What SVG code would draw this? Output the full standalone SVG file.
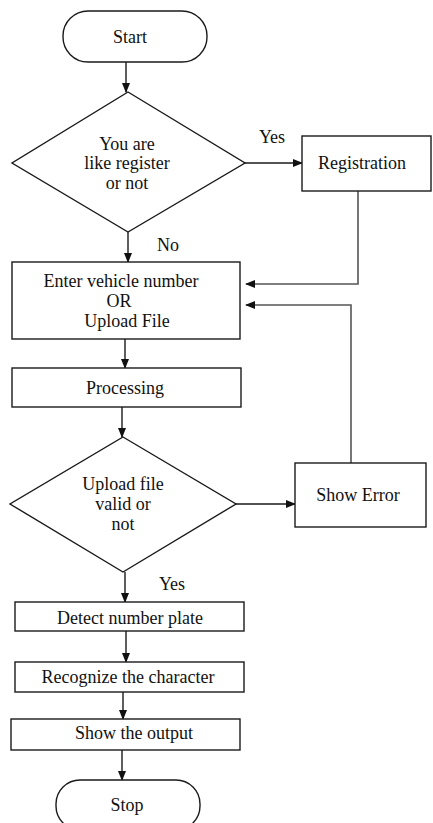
<svg xmlns="http://www.w3.org/2000/svg" width="433" height="823" viewBox="0 0 433 823">
<defs>
<style>
.s{fill:#fff;stroke:#1a1a1a;stroke-width:1.4}
.c{fill:none;stroke:#1a1a1a;stroke-width:1.4}
.g{fill:none;stroke:#555;stroke-width:1.6}
text{font-family:"Liberation Serif","Times New Roman",serif;font-size:18px;fill:#111;text-anchor:middle}
</style>
<marker id="a" markerWidth="10" markerHeight="8" refX="9" refY="4" orient="auto" markerUnits="userSpaceOnUse">
<path d="M0,0 L10,4 L0,8 Z" fill="#111"/>
</marker>
</defs>
<rect width="433" height="823" fill="#fff"/>
<g id="connectors">
<line class="c" x1="126" y1="62" x2="126" y2="92" marker-end="url(#a)"/>
<line class="c" x1="245" y1="163" x2="302" y2="163" marker-end="url(#a)"/>
<polyline class="g" points="358,191 358,284 246,284" marker-end="url(#a)"/>
<line class="c" x1="128" y1="232" x2="128" y2="262" marker-end="url(#a)"/>
<polyline class="g" points="351,463 351,305 246,305" marker-end="url(#a)"/>
<line class="c" x1="125" y1="339" x2="125" y2="368" marker-end="url(#a)"/>
<line class="c" x1="122" y1="407" x2="122" y2="437" marker-end="url(#a)"/>
<line class="c" x1="236" y1="504" x2="295" y2="504" marker-end="url(#a)"/>
<line class="c" x1="125" y1="572" x2="125" y2="602" marker-end="url(#a)"/>
<line class="c" x1="126" y1="631" x2="126" y2="662" marker-end="url(#a)"/>
<line class="c" x1="123" y1="692" x2="123" y2="719" marker-end="url(#a)"/>
<line class="c" x1="122" y1="750" x2="122" y2="780" marker-end="url(#a)"/>
<text x="272" y="143">Yes</text>
<text x="168" y="251">No</text>
<text x="172" y="590">Yes</text>
</g>
<g id="start">
<rect class="s" x="63" y="11" width="144" height="51" rx="25"/>
<text x="130" y="43">Start</text>
</g>
<g id="decision-register">
<polygon class="s" points="128,92 245,163 128,232 12,163"/>
<text x="127" y="150">You are</text>
<text x="127" y="169">like register</text>
<text x="127" y="189">or not</text>
</g>
<g id="registration">
<rect class="s" x="302" y="136" width="129" height="55"/>
<text x="362" y="169">Registration</text>
</g>
<g id="enter">
<rect class="s" x="12" y="262" width="228" height="77"/>
<text x="121" y="287">Enter vehicle number</text>
<text x="119" y="307">OR</text>
<text x="127" y="327">Upload File</text>
</g>
<g id="processing">
<rect class="s" x="12" y="368" width="229" height="39"/>
<text x="125" y="394">Processing</text>
</g>
<g id="decision-valid">
<polygon class="s" points="123,437 236,504 123,572 10,504"/>
<text x="123" y="490">Upload file</text>
<text x="123" y="510">valid or</text>
<text x="123" y="530">not</text>
</g>
<g id="show-error">
<rect class="s" x="295" y="463" width="131" height="64"/>
<text x="358" y="501">Show Error</text>
</g>
<g id="detect">
<rect class="s" x="15" y="602" width="229" height="29"/>
<text x="130" y="624">Detect number plate</text>
</g>
<g id="recognize">
<rect class="s" x="15" y="662" width="229" height="30"/>
<text x="128" y="683">Recognize the character</text>
</g>
<g id="output">
<rect class="s" x="11" y="719" width="229" height="31"/>
<text x="134" y="739">Show the output</text>
</g>
<g id="stop">
<rect class="s" x="56" y="780" width="144" height="50" rx="24"/>
<text x="127" y="811">Stop</text>
</g>
</svg>
